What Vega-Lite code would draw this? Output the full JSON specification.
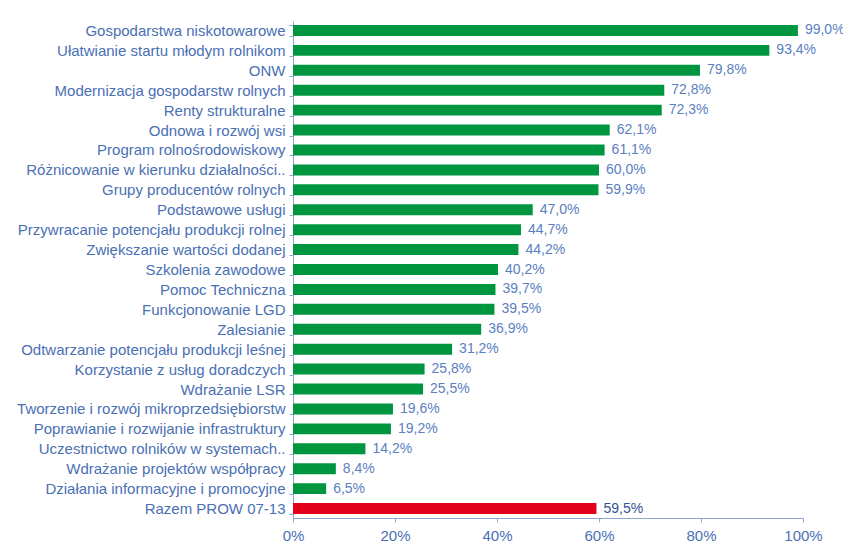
{
  "$schema": "https://vega.github.io/schema/vega-lite/v6.json",
  "width": 510,
  "height": 497,
  "autosize": {"type": "none"},
  "padding": {"left": 293, "top": 21, "right": 40, "bottom": 42},
  "background": "white",
  "config": {
    "view": {"stroke": null},
    "font": "Liberation Sans",
    "axis": {"labelFont": "Liberation Sans", "labelColor": "#4a70b4", "domainColor": "#8ea6cf", "tickColor": "#8ea6cf", "grid": false}
  },
  "data": {"values": [
    {"cat": "Gospodarstwa  niskotowarowe", "v": 99.0, "t": "99,0%", "total": false},
    {"cat": "Ułatwianie startu młodym rolnikom", "v": 93.4, "t": "93,4%", "total": false},
    {"cat": "ONW", "v": 79.8, "t": "79,8%", "total": false},
    {"cat": "Modernizacja gospodarstw rolnych", "v": 72.8, "t": "72,8%", "total": false},
    {"cat": "Renty strukturalne", "v": 72.3, "t": "72,3%", "total": false},
    {"cat": "Odnowa i rozwój wsi", "v": 62.1, "t": "62,1%", "total": false},
    {"cat": "Program rolnośrodowiskowy", "v": 61.1, "t": "61,1%", "total": false},
    {"cat": "Różnicowanie w kierunku działalności..", "v": 60.0, "t": "60,0%", "total": false},
    {"cat": "Grupy producentów rolnych", "v": 59.9, "t": "59,9%", "total": false},
    {"cat": "Podstawowe usługi", "v": 47.0, "t": "47,0%", "total": false},
    {"cat": "Przywracanie potencjału produkcji rolnej", "v": 44.7, "t": "44,7%", "total": false},
    {"cat": "Zwiększanie wartości dodanej", "v": 44.2, "t": "44,2%", "total": false},
    {"cat": "Szkolenia zawodowe", "v": 40.2, "t": "40,2%", "total": false},
    {"cat": "Pomoc Techniczna", "v": 39.7, "t": "39,7%", "total": false},
    {"cat": "Funkcjonowanie LGD", "v": 39.5, "t": "39,5%", "total": false},
    {"cat": "Zalesianie", "v": 36.9, "t": "36,9%", "total": false},
    {"cat": "Odtwarzanie potencjału produkcji leśnej", "v": 31.2, "t": "31,2%", "total": false},
    {"cat": "Korzystanie z usług doradczych", "v": 25.8, "t": "25,8%", "total": false},
    {"cat": "Wdrażanie LSR", "v": 25.5, "t": "25,5%", "total": false},
    {"cat": "Tworzenie i rozwój mikroprzedsiębiorstw", "v": 19.6, "t": "19,6%", "total": false},
    {"cat": "Poprawianie i rozwijanie infrastruktury", "v": 19.2, "t": "19,2%", "total": false},
    {"cat": "Uczestnictwo rolników w systemach..", "v": 14.2, "t": "14,2%", "total": false},
    {"cat": "Wdrażanie projektów współpracy", "v": 8.4, "t": "8,4%", "total": false},
    {"cat": "Działania informacyjne i promocyjne", "v": 6.5, "t": "6,5%", "total": false},
    {"cat": "Razem PROW 07-13", "v": 59.5, "t": "59,5%", "total": true}
  ]},
  "encoding": {
    "y": {"field": "cat", "type": "nominal", "sort": null, "title": null,
      "scale": {"paddingInner": 0.45, "paddingOuter": 0.2},
      "axis": {"labelFontSize": 15, "labelPadding": 4, "tickSize": 4, "tickBand": "extent", "labelLimit": 300}},
    "x": {"field": "v", "type": "quantitative", "title": null,
      "scale": {"domain": [0, 100], "nice": false},
      "axis": {"values": [0, 20, 40, 60, 80, 100], "labelExpr": "datum.value + '%'", "labelFontSize": 15, "tickSize": 4, "labelPadding": 6, "labelFlush": false}}
  },
  "layer": [
    {"mark": {"type": "bar", "stroke": null},
     "encoding": {"color": {"field": "total", "type": "nominal", "scale": {"domain": [false, true], "range": ["#009640", "#e2001a"]}, "legend": null}}},
    {"mark": {"type": "text", "align": "left", "dx": 7, "fontSize": 14, "font": "Liberation Sans"},
     "encoding": {"text": {"field": "t"},
       "color": {"condition": {"test": "datum.total", "value": "#2f5597"}, "value": "#5b80bf"},
       "fontWeight": {"condition": {"test": "datum.total", "value": "bold"}, "value": "normal"}}}
  ]
}
